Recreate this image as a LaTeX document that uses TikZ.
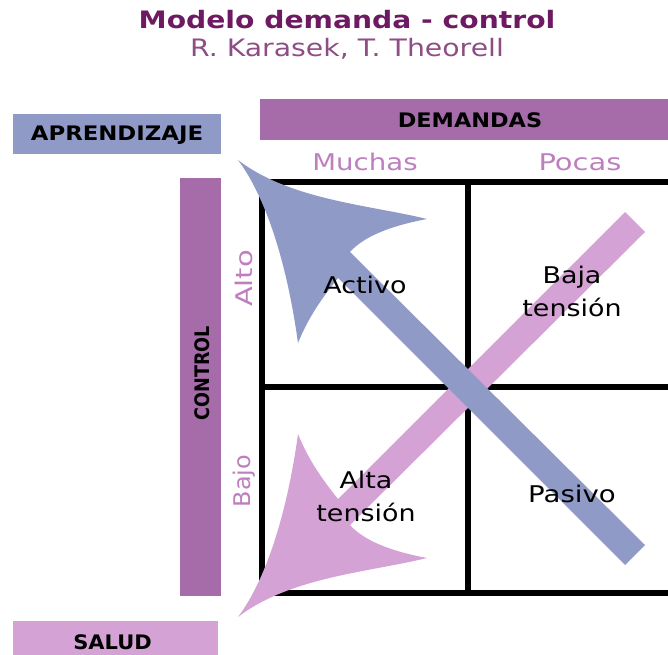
\documentclass[tikz,border=0pt]{standalone}
\usepackage{tikz}
\usepackage{graphicx}
\usepackage{fontspec}
\setmainfont{DejaVu Sans}
\definecolor{boxpurple}{HTML}{A66BA9}
\definecolor{boxblue}{HTML}{8F9BC6}
\definecolor{boxpink}{HTML}{D4A2D4}
\definecolor{lblpurple}{HTML}{BE7EC0}
\definecolor{titlecol}{HTML}{6E1A62}
\definecolor{subcol}{HTML}{8E4D86}
\definecolor{arrblue}{HTML}{8F9BC6}
\definecolor{arrpink}{HTML}{D4A2D4}
\newcommand{\wideTxt}[2][1.2]{\scalebox{#1}[1]{#2}}
\begin{document}
\begin{tikzpicture}[x=1bp,y=-1bp,
  catbox/.style={fill=#1, draw=none, inner sep=0pt},
  boldlbl/.style={font=\fontsize{20bp}{24bp}\selectfont\bfseries, text=black, inner sep=0pt},
  axislbl/.style={font=\fontsize{23bp}{27bp}\selectfont, text=lblpurple, inner sep=0pt},
  celllbl/.style={font=\fontsize{23bp}{33bp}\selectfont, text=black, inner sep=0pt, align=center},
  gridline/.style={line width=5.5bp, draw=black, line cap=rect},
  arrowshape/.style={fill=#1, draw=none}
]
\useasboundingbox (0,0) rectangle (668,655);
\clip (0,0) rectangle (668,655);

% title
\node[anchor=base, text=titlecol, font=\fontsize{24bp}{28bp}\selectfont\bfseries, inner sep=0pt] (title) at (347,29) {\wideTxt[1.175]{Modelo demanda - control}};
\node[anchor=base, text=subcol, font=\fontsize{24bp}{28bp}\selectfont, inner sep=0pt] (subtitle) at (347,57) {\wideTxt[1.18]{R. Karasek, T. Theorell}};

% category boxes
\node[catbox=boxblue, minimum width=208bp, minimum height=40bp] (aprbox) at (117,134) {};
\node[catbox=boxpurple, minimum width=415bp, minimum height=41bp] (dembox) at (467.5,119.5) {};
\node[catbox=boxpurple, minimum width=41bp, minimum height=418bp] (ctrlbox) at (200.5,387) {};
\node[catbox=boxpink, minimum width=205bp, minimum height=49bp] (salbox) at (115.5,645.5) {};

\node[boldlbl, anchor=base] (apr) at (117,140.5) {\wideTxt[1.14]{APRENDIZAJE}};
\node[boldlbl, anchor=base] (dem) at (470,128) {\wideTxt[1.12]{DEMANDAS}};
\node[boldlbl, anchor=base, rotate=90] (ctrl) at (209.5,373) {\wideTxt[0.88]{CONTROL}};
\node[boldlbl, anchor=base] (sal) at (112.5,649) {\wideTxt[1.05]{SALUD}};

% axis labels
\node[axislbl, anchor=base] (muchas) at (365,170) {\wideTxt{Muchas}};
\node[axislbl, anchor=base] (pocas) at (580,170) {\wideTxt[1.26]{Pocas}};
\node[axislbl, anchor=base, rotate=90] (alto) at (252,278.5) {\wideTxt[1.26]{Alto}};
\node[axislbl, anchor=base, rotate=90] (bajo) at (250,481) {\wideTxt[1.04]{Bajo}};

% grid
\coordinate (gTL) at (262,182);
\coordinate (gTR) at (680,182);
\coordinate (gBL) at (262,593);
\coordinate (gBR) at (680,593);
\coordinate (gML) at (262,387);
\coordinate (gMR) at (680,387);
\coordinate (gMT) at (468,182);
\coordinate (gMB) at (468,593);
\draw[gridline] (gTL) -- (gTR);
\draw[gridline] (gBL) -- (gBR);
\draw[gridline] (gTL) -- (gBL);
\draw[gridline] (gMT) -- (gMB);
\draw[gridline] (gML) -- (gMR);

% pink arrow (toward SALUD)
\path[arrowshape=arrpink] (238,617) .. controls (290,577) and (370,572) .. (427,558)
  .. controls (395,552) and (365,542) .. (350,525) -- (645,232) -- (625,212) -- (338,499)
  .. controls (322,479) and (308,459) .. (298,434)
  .. controls (288,507) and (268,577) .. cycle;

% blue arrow (toward APRENDIZAJE)
\path[arrowshape=arrblue] (238,160) .. controls (290,200) and (370,205) .. (427,219)
  .. controls (395,225) and (365,235) .. (350,252) -- (645,545) -- (625,565) -- (338,278)
  .. controls (322,298) and (308,318) .. (298,343)
  .. controls (288,270) and (268,200) .. cycle;

% cell labels
\node[celllbl, anchor=base] (activo) at (365,293) {\wideTxt[1.17]{Activo}};
\node[celllbl] (baja) at (572,291) {\wideTxt[1.17]{Baja}\\\wideTxt[1.17]{tensión}};
\node[celllbl] (alta) at (366,496) {\wideTxt[1.17]{Alta}\\\wideTxt[1.17]{tensión}};
\node[celllbl, anchor=base] (pasivo) at (572,502) {\wideTxt[1.2]{Pasivo}};
\end{tikzpicture}
\end{document}
